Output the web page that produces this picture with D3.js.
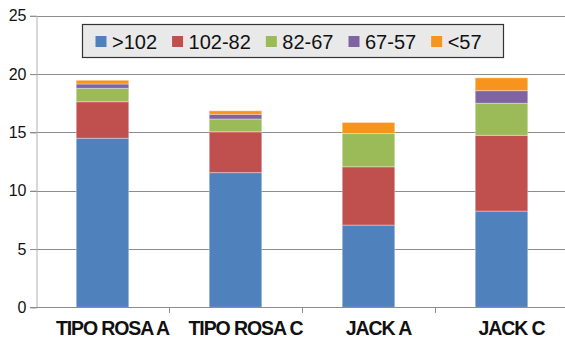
<!DOCTYPE html>
<html>
<head>
<meta charset="utf-8">
<script src="https://cdn.jsdelivr.net/npm/d3@7"></script>
<style>
  html, body { margin: 0; padding: 0; background: #fff; }
  svg { display: block; font-family: "Liberation Sans", Arial, sans-serif; }
</style>
</head>
<body>
<svg id="chart" width="565" height="343"></svg>
<script>
// Categories and stacked series (size classes)
const categories = ["TIPO ROSA A", "TIPO ROSA C", "JACK A", "JACK C"];
const seriesNames = [">102", "102-82", "82-67", "67-57", "<57"];
const s102plus  = [14.5, 11.55, 7.05, 8.25];
const s102to82  = [3.13, 3.5, 5.0, 6.5];
const s82to67   = [1.15, 1.1, 2.85, 2.75];
const s67to57   = [0.37, 0.4, 0.0, 1.08];
const sBelow57  = [0.32, 0.3, 0.95, 1.1];
const yTicks = [0, 5, 10, 15, 20, 25];
const colors = ["#4F81BD", "#C0504D", "#9BBB59", "#8064A2", "#F7941E"];

const seriesValues = [s102plus, s102to82, s82to67, s67to57, sBelow57];
const rows = categories.map((c, i) => {
  const r = { category: c };
  seriesNames.forEach((s, k) => { r[s] = seriesValues[k][i]; });
  return r;
});

const svg = d3.select("#chart");
const margin = { left: 36, right: -3, top: 16, bottom: 36 };
const W = 565, H = 343;

const x = d3.scaleBand()
  .domain(categories)
  .range([margin.left, W - margin.right])
  .paddingInner(0.605)
  .paddingOuter(0.3025);

const y = d3.scaleLinear()
  .domain([0, 25])
  .range([307.3, 15.8]);

// Horizontal gridlines with a short tick stub to the left of the axis
svg.append("g")
  .selectAll("line")
  .data(yTicks.filter(t => t > 0))
  .join("line")
  .attr("x1", margin.left - 6)
  .attr("x2", W)
  .attr("y1", d => Math.round(y(d)) + 0.5)
  .attr("y2", d => Math.round(y(d)) + 0.5)
  .attr("stroke", "#8c8c8c")
  .attr("stroke-width", 1);

// Y axis
const yAxis = svg.append("g")
  .attr("transform", `translate(${margin.left + 0.5},0)`)
  .call(d3.axisLeft(y).tickValues(yTicks).tickSize(6).tickPadding(4));
yAxis.select(".domain").attr("stroke", "#b0b0b0");
yAxis.selectAll(".tick line").attr("stroke", "#8c8c8c");
yAxis.selectAll(".tick text")
  .attr("font-size", 16)
  .attr("font-family", "'Liberation Sans', Arial, sans-serif")
  .attr("fill", "#111");

// Stacked bars
const stack = d3.stack().keys(seriesNames);
const layers = stack(rows);

svg.append("g")
  .selectAll("g")
  .data(layers)
  .join("g")
  .attr("fill", (d, i) => colors[i])
  .selectAll("rect")
  .data(d => d.filter(p => p[1] - p[0] > 0))
  .join("rect")
  .attr("x", d => x(d.data.category))
  .attr("width", x.bandwidth())
  .attr("y", d => y(d[1]))
  .attr("height", d => y(d[0]) - y(d[1]))
  .attr("stroke", "rgba(255,255,255,0.35)")
  .attr("stroke-width", 1);

// X axis with category boundary ticks
const step = x.step();
const boundaries = categories.slice(0, -1).map(c => x(c) + x.bandwidth() / 2 + step / 2);
const xg = svg.append("g");
xg.append("line")
  .attr("x1", margin.left - 6).attr("x2", W)
  .attr("y1", Math.round(y(0)) + 0.5).attr("y2", Math.round(y(0)) + 0.5)
  .attr("stroke", "#8c8c8c");
xg.selectAll("line.tick")
  .data(boundaries)
  .join("line")
  .attr("class", "tick")
  .attr("x1", d => Math.round(d) + 0.5).attr("x2", d => Math.round(d) + 0.5)
  .attr("y1", Math.round(y(0))).attr("y2", Math.round(y(0)) + 6)
  .attr("stroke", "#8c8c8c");
xg.selectAll("text")
  .data(categories)
  .join("text")
  .attr("x", d => x(d) + x.bandwidth() / 2 + 10)
  .attr("y", 334.5)
  .attr("text-anchor", "middle")
  .attr("font-size", 19.5)
  .attr("font-weight", "bold")
  .attr("letter-spacing", "-1.1px")
  .attr("fill", "#111")
  .text(d => d);

// Legend
const legend = svg.append("g");
legend.append("rect")
  .attr("x", 82.5).attr("y", 24.5)
  .attr("width", 421).attr("height", 33)
  .attr("fill", "#e9e9e9")
  .attr("stroke", "#333")
  .attr("stroke-width", 1.2);

let lx = 95.5;
seriesNames.forEach((name, i) => {
  legend.append("rect")
    .attr("x", lx).attr("y", 36)
    .attr("width", 11).attr("height", 11)
    .attr("fill", colors[i]);
  const t = legend.append("text")
    .attr("x", lx + 16.5)
    .attr("y", 48.5)
    .attr("font-size", 20)
    .attr("fill", "#111")
    .text(name);
  lx += 16.5 + t.node().getComputedTextLength() + 15;
});
</script>
</body>
</html>
